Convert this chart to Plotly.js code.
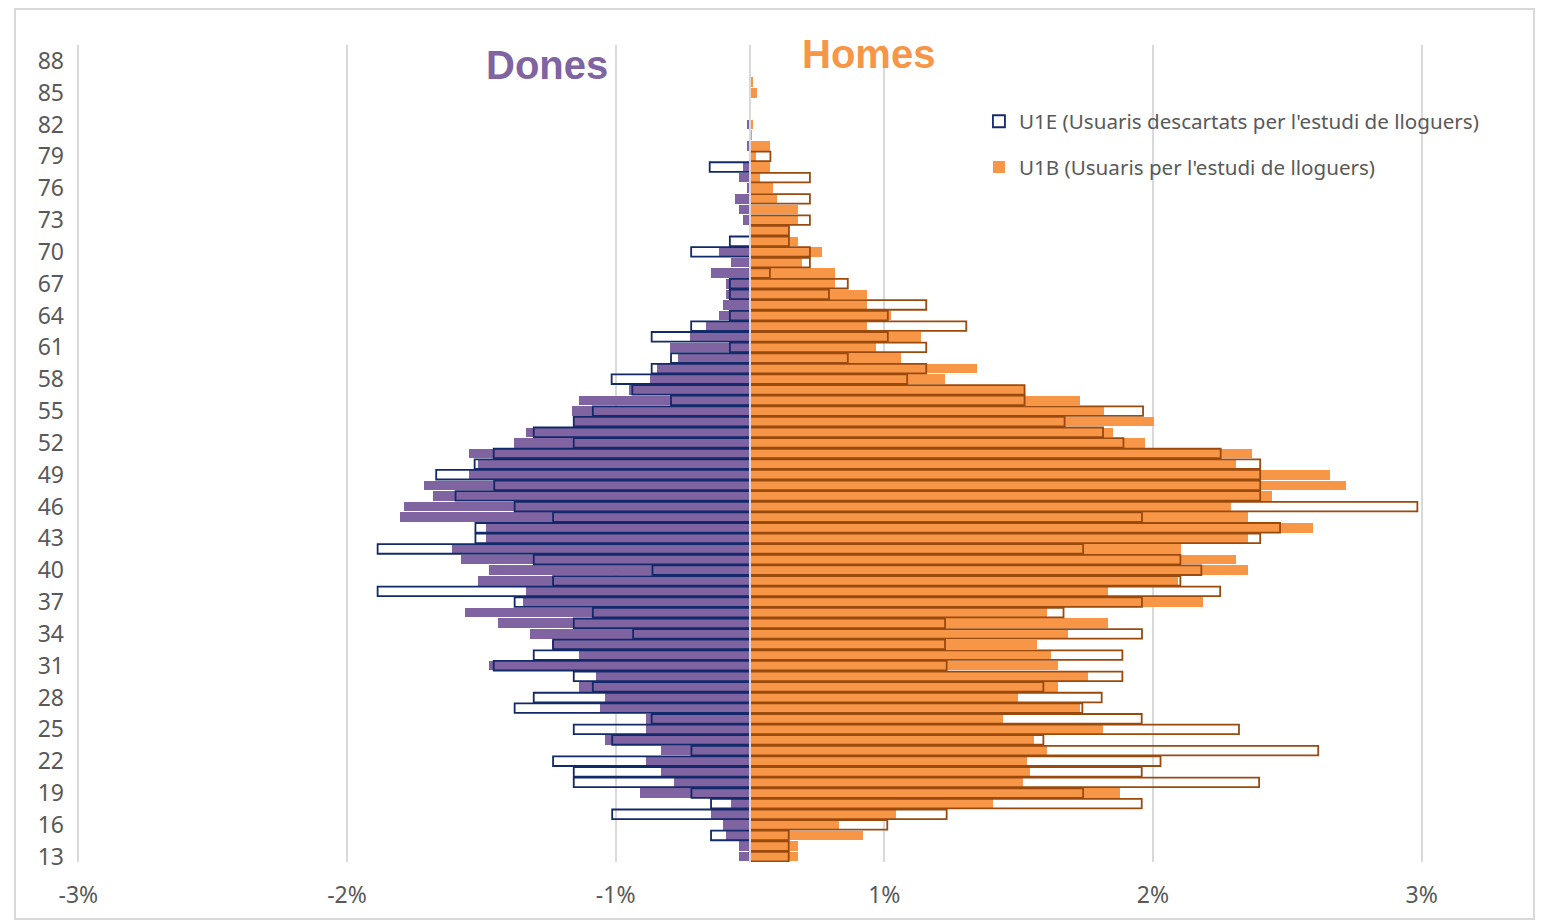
<!DOCTYPE html>
<html>
<head>
<meta charset="utf-8">
<script src="https://cdn.plot.ly/plotly-3.0.1.min.js"></script>
<style>
  html, body { margin: 0; padding: 0; background: #ffffff; }
  #chart { width: 1544px; height: 921px; }
  #frame { position: absolute; left: 14px; top: 8px; width: 1517px; height: 908px;
           border: 2px solid #D9D9D9; pointer-events: none; }
</style>
</head>
<body>
<div id="chart"></div>
<div id="frame"></div>
<script>
// Ages (category rows), youngest at bottom
const ages = [13,14,15,16,17,18,19,20,21,22,23,24,25,26,27,28,29,30,31,32,33,34,35,36,37,38,39,40,
  41,42,43,44,45,46,47,48,49,50,51,52,53,54,55,56,57,58,59,60,61,62,63,64,65,66,67,68,69,70,
  71,72,73,74,75,76,77,78,79,80,81,82,83,84,85,86,87,88,89];
const tickAges = [13,16,19,22,25,28,31,34,37,40,43,46,49,52,55,58,61,64,67,70,73,76,79,82,85,88];

// Axis tick positions (percent) and their printed labels
const xTickVals = [-2.5,-1.5,-0.5,0.5,1.5,2.5];
const xTickText = ["-3%","-2%","-1%","1%","2%","3%"];

// Dones (women) – share in % (drawn to the left)
const donesU1B = [0.040,0.040,0.089,0.101,0.145,0.070,0.408,0.284,0.331,0.388,0.331,0.541,0.388,0.388,0.559,0.541,0.636,0.574,0.970,0.637,
  0.737,0.818,0.937,1.061,0.846,0.832,1.012,0.970,1.076,1.108,0.984,0.984,1.304,1.289,1.180,1.212,1.046,1.014,1.046,0.880,
  0.832,0.656,0.664,0.636,0.450,0.373,0.346,0.269,0.299,0.222,0.165,0.116,0.102,0.088,0.088,0.145,0.070,0.116,0,0,
  0.025,0.040,0.055,0.012,0.040,0.025,0,0.012,0,0.012,0,0,0,0,0,0,0];
const donesU1E = [0,0,0.145,0,0.513,0.145,0.218,0.656,0.656,0.733,0.218,0.513,0.656,0.366,0.876,0.805,0.585,0.656,0.954,0.805,
  0.733,0.435,0.656,0.585,0.876,1.386,0.733,0.363,0.805,1.386,1.022,1.022,0.733,0.876,1.096,0.952,1.168,1.025,0.954,0.656,
  0.805,0.656,0.585,0.294,0.438,0.515,0.366,0.294,0.075,0.366,0.219,0.075,0,0.075,0.075,0,0,0.219,0.075,0,
  0,0,0,0,0,0.150,0,0,0,0,0,0,0,0,0,0,0];

// Homes (men) – share in % (drawn to the right)
const homesU1B = [0.177,0.177,0.421,0.331,0.544,0.905,1.377,1.016,1.042,1.031,1.105,1.056,1.315,0.940,1.227,0.996,1.147,1.258,1.147,1.120,
  1.070,1.182,1.334,1.105,1.685,1.334,1.594,1.853,1.808,1.605,1.853,2.096,1.853,1.792,1.943,2.220,2.157,1.808,1.867,1.469,
  1.351,1.504,1.318,1.227,1.022,0.726,0.846,0.561,0.470,0.635,0.436,0.526,0.436,0.436,0.316,0.316,0.194,0.269,0.178,0.145,
  0.178,0.178,0.101,0.086,0.039,0.074,0.024,0.074,0.008,0.010,0,0,0.027,0.011,0,0,0];
const homesU1E = [0.144,0.144,0.144,0.511,0.732,1.458,1.240,1.895,1.458,1.528,2.115,1.092,1.820,1.458,1.237,1.309,1.092,1.386,0.732,1.386,
  0.726,1.459,0.726,1.167,1.459,1.750,1.602,1.680,1.602,1.240,1.899,1.973,1.459,2.484,1.899,1.899,1.899,1.899,1.752,1.390,
  1.314,1.171,1.463,1.022,1.022,0.585,0.656,0.364,0.656,0.513,0.805,0.513,0.656,0.294,0.364,0.074,0.223,0.223,0.145,0.145,
  0.223,0,0.223,0,0.223,0,0.076,0,0,0,0,0,0,0,0,0,0];

const nameU1E = "U1E (Usuaris descartats per l'estudi de lloguers)";
const nameU1B = "U1B (Usuaris per l'estudi de lloguers)";

const PURPLE = '#8064A2', ORANGE = '#F79646', NAVY = '#12296A', BROWN = '#9A4A0C';
const neg = a => a.map(v => v ? -v : null);
const pos = a => a.map(v => v ? v : null);
const BW = 0.9;

const traces = [
  { type:'bar', orientation:'h', y: ages, x: neg(donesU1B), width: BW, name: nameU1B,
    marker:{ color: PURPLE, line:{ width:0 } }, showlegend:false, hoverinfo:'skip' },
  { type:'bar', orientation:'h', y: ages, x: pos(homesU1B), width: BW, name: nameU1B,
    marker:{ color: ORANGE, line:{ width:0 } }, showlegend:true, legendrank: 2, hoverinfo:'skip', legendgroup:'b' },
  { type:'bar', orientation:'h', y: ages, x: neg(donesU1E), width: BW, name: nameU1E,
    marker:{ color:'rgba(0,0,0,0)', line:{ color: NAVY, width:1.8 } }, showlegend:true, legendrank: 1, hoverinfo:'skip', legendgroup:'e' },
  { type:'bar', orientation:'h', y: ages, x: pos(homesU1E), width: BW, name: nameU1E,
    marker:{ color:'rgba(0,0,0,0)', line:{ color: BROWN, width:1.8 } }, showlegend:false, hoverinfo:'skip' }
];

const tickFont = { family:'Noto Sans, sans-serif', size:23, color:'#595959' };

const layout = {
  width:1544, height:921,
  margin:{ l:77, r:121, t:45, b:59, pad:0 },
  paper_bgcolor:'#ffffff', plot_bgcolor:'#ffffff',
  barmode:'overlay',
  bargap:0,
  showlegend:true,
  legend:{ x:0.6701, y:0.931, xanchor:'left', yanchor:'top', traceorder:'grouped', tracegroupgap:16,
           font:{ family:'Noto Sans, sans-serif', size:20.6, color:'#595959' }, bgcolor:'rgba(255,255,255,0)' },
  xaxis:{ range:[-2.505, 2.505], tickmode:'array', tickvals:xTickVals, ticktext:xTickText,
          showgrid:true, gridcolor:'#D9D9D9', gridwidth:2, zeroline:false, showline:false,
          ticks:'', tickfont:tickFont, ticklabelstandoff:17, fixedrange:true },
  yaxis:{ range:[12.5, 89.5], tickmode:'array', tickvals:tickAges, ticktext:tickAges.map(String),
          showgrid:false, zeroline:false, showline:false, ticks:'', tickfont:tickFont,
          ticklabelstandoff:12, fixedrange:true },
  shapes:[
    { type:'line', xref:'x', yref:'paper', x0:0, x1:0, y0:0, y1:1, layer:'above',
      line:{ color:'#D9D9D9', width:2 } }
  ],
  annotations:[
    { text:'<b>Dones</b>', xref:'paper', yref:'paper', x:0.3492, y:0.9759, xanchor:'center', yanchor:'middle',
      showarrow:false, font:{ family:'Liberation Sans, Arial, sans-serif', size:40, color:PURPLE } },
    { text:'<b>Homes</b>', xref:'paper', yref:'paper', x:0.5884, y:0.9886, xanchor:'center', yanchor:'middle',
      showarrow:false, font:{ family:'Liberation Sans, Arial, sans-serif', size:40, color:ORANGE } }
  ]
};

Plotly.newPlot('chart', traces, layout, { displayModeBar:false, staticPlot:true });
</script>
</body>
</html>
